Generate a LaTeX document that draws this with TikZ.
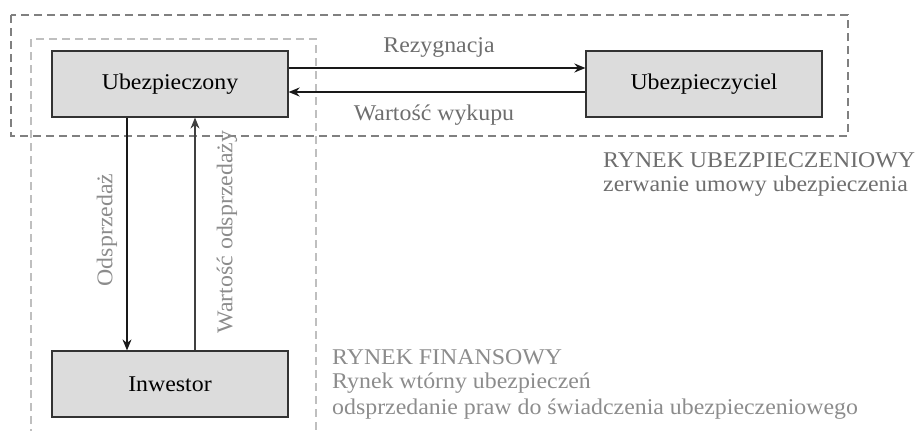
\documentclass[tikz,border=0pt]{standalone}
\usepackage{fontspec}
\setmainfont[FakeStretch=1.06]{Liberation Serif}
\usetikzlibrary{arrows.meta}
\definecolor{boxfill}{HTML}{DCDCDC}
\definecolor{boxline}{HTML}{333333}
\definecolor{lbl}{HTML}{6E6E6E}
\definecolor{lightlbl}{HTML}{8C8C8C}
\begin{document}
\begin{tikzpicture}[x=1pt,y=-1pt,
  every node/.style={font=\fontsize{22.5}{26}\selectfont},
  actor/.style={draw=boxline,line width=1.2pt,fill=boxfill,minimum width=236pt,minimum height=66pt,inner sep=0pt,text=black},
  flow/.style={line width=1.8pt,draw=black!90,-{Stealth[length=11pt,width=9pt]}},
  thinflow/.style={line width=1.1pt,draw=black!75,-{Stealth[length=11pt,width=9pt]}},
  lab/.style={text=lbl,inner sep=0pt},
  note/.style={text=lightlbl,inner sep=0pt,anchor=west},
  notedark/.style={text=lbl,inner sep=0pt,anchor=west},
  market/.style={dash pattern=on 8pt off 5pt,line width=1.1pt}]
\useasboundingbox (0,0) rectangle (919,431);
% market frames
\draw[market,draw=black!50] (11,15) rectangle (848,136);
\draw[market,draw=black!25] (31,450) -- (31,39) -- (316,39) -- (316,450);
% actors
\node[actor] (ins) at (170,84) {Ubezpieczony};
\node[actor] (insr) at (704,84) {Ubezpieczyciel};
\node[actor] (inv) at (170,384) {Inwestor};
% horizontal flows
\draw[flow] (ins.east |- 0,68) -- (insr.west |- 0,68);
\draw[flow] (insr.west |- 0,92) -- (ins.east |- 0,92);
\node[lab] (rez) at (439,47) {Rezygnacja};
\node[lab] (wyk) at (434,115) {Wartość wykupu};
% vertical flows
\draw[flow,line width=1.5pt] (ins.south -| 127,0) -- (inv.north -| 127,0);
\draw[thinflow] (inv.north -| 195,0) -- (ins.south -| 195,0);
\node[lab,text=lightlbl,rotate=90] (ods) at (107,230) {Odsprzedaż};
\node[lab,text=lightlbl,rotate=90] (wods) at (227,232) {Wartość odsprzedaży};
% notes
\node[notedark] (n1) at (603,160) {RYNEK UBEZPIECZENIOWY};
\node[notedark] (n2) at (603,186) {zerwanie umowy ubezpieczenia};
\node[note] (n3) at (332,357) {RYNEK FINANSOWY};
\node[note] (n4) at (332,383) {Rynek wtórny ubezpieczeń};
\node[note] (n5) at (332,409) {odsprzedanie praw do świadczenia ubezpieczeniowego};
\end{tikzpicture}
\end{document}
